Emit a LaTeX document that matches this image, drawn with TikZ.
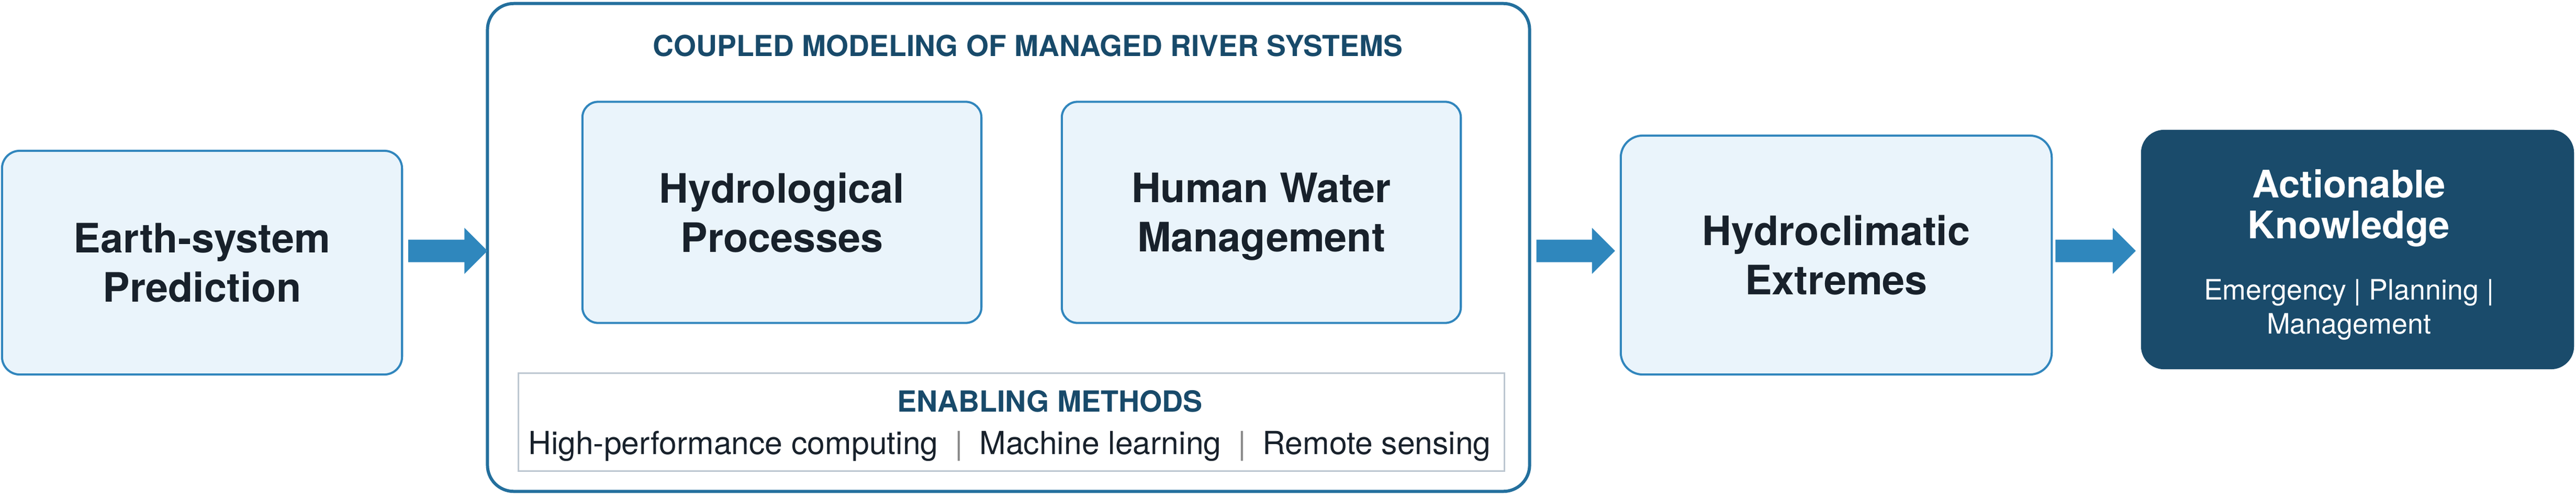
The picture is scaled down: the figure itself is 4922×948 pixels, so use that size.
\documentclass[tikz,border=0pt]{standalone}
\usepackage{fontspec}
\setmainfont{TeX Gyre Heros}
\usetikzlibrary{calc}

\definecolor{cEdge}{HTML}{3186BD}
\definecolor{cFill}{HTML}{EAF4FB}
\definecolor{cFrame}{HTML}{236F9D}
\definecolor{cArrow}{HTML}{2F87BD}
\definecolor{cDark}{HTML}{1A4B6B}
\definecolor{cHead}{HTML}{184A6A}
\definecolor{cText}{HTML}{18212B}
\definecolor{cGrey}{HTML}{BCC6D0}
\definecolor{cSep}{HTML}{8A8A8A}

\newcommand{\sepbar}{\hspace{9pt}\textcolor{cSep}{|}\hspace{9pt}}

\tikzset{
  stage/.style={draw=cEdge, fill=cFill, line width=1.15pt, rounded corners=0.34cm,
    align=center, text=cText, inner sep=0pt, outer sep=0pt, text depth=0pt,
    font=\fontsize{22}{26.7}\selectfont\bfseries},
  frame/.style={draw=cFrame, line width=1.7pt, rounded corners=0.5cm, inner sep=0pt, outer sep=0pt},
  methodbox/.style={draw=cGrey, fill=white, line width=0.85pt, inner sep=0pt, outer sep=0pt},
  heading/.style={anchor=base, text=cHead, inner sep=0pt, font=\fontsize{15.7}{18}\selectfont\bfseries},
  outcome/.style={fill=cDark, rounded corners=0.44cm, inner sep=0pt, outer sep=0pt},
  outtext/.style={anchor=north, align=center, text=white, inner sep=0pt},
}

\begin{document}
\begin{tikzpicture}[x=0.01cm, y=-0.01cm]
\def\ay{479}
\def\bh{21.5}
\def\hh{44}
\def\hl{44}
\newcommand{\flowarrow}[4]{%
  \fill[cArrow] ($(#1.east |- lane)+(#3,-\bh)$) -- ($(#2.west |- lane)+(-#4-\hl,-\bh)$)
    -- ++(0,\bh-\hh) -- ($(#2.west |- lane)+(-#4,0)$) -- ($(#2.west |- lane)+(-#4-\hl,\hh)$)
    -- ++(0,\bh-\hh) -- ($(#1.east |- lane)+(#3,\bh)$) -- cycle;}
\useasboundingbox (0,0) rectangle (4922,948);
\coordinate (lane) at (0,\ay);

% input
\node[stage, minimum width=7.64cm, minimum height=4.27cm] (earth) at (386,501.5) {Earth-system\\Prediction};

% coupled modeling frame
\node[frame, minimum width=19.9cm, minimum height=9.31cm] (coupled) at (1927,472.5) {};
\node[heading] (coupledTitle) at (1964,107) {COUPLED MODELING OF MANAGED RIVER SYSTEMS};
\node[stage, rounded corners=0.3cm, minimum width=7.62cm, minimum height=4.22cm] (hydro) at (1494,405.5) {Hydrological\\Processes};
\node[stage, rounded corners=0.3cm, minimum width=7.62cm, minimum height=4.22cm] (human) at (2410,405.5) {Human Water\\Management};
\node[methodbox, minimum width=18.83cm, minimum height=1.86cm] (methods) at (1932.5,806) {};
\node[heading, font=\fontsize{15.8}{18}\selectfont\bfseries] (methodsTitle) at (2006,786) {ENABLING METHODS};
\node[anchor=base, inner sep=0pt, text=cText, font=\fontsize{17.25}{20}\selectfont] (methodsList) at (1929,867)
  {High-performance computing\sepbar Machine learning\sepbar Remote sensing};

% outputs
\node[stage, rounded corners=0.42cm, minimum width=8.23cm, minimum height=4.56cm] (extremes) at (3508.5,487) {Hydroclimatic\\Extremes};
\node[outcome, minimum width=8.27cm, minimum height=4.57cm] (knowledge) at (4504.5,476.5) {};
\node[outtext, font=\fontsize{20.6}{22.2}\selectfont\bfseries] (knowledgeTitle) at (4488,323) {Actionable\\Knowledge};
\node[outtext, font=\fontsize{15.3}{18.5}\selectfont] (knowledgeUse) at (4488,533) {Emergency | Planning |\\Management};

% arrows
\flowarrow{earth}{coupled}{12}{0}
\flowarrow{coupled}{extremes}{13}{11}
\flowarrow{extremes}{knowledge}{7}{10}
\end{tikzpicture}
\end{document}
